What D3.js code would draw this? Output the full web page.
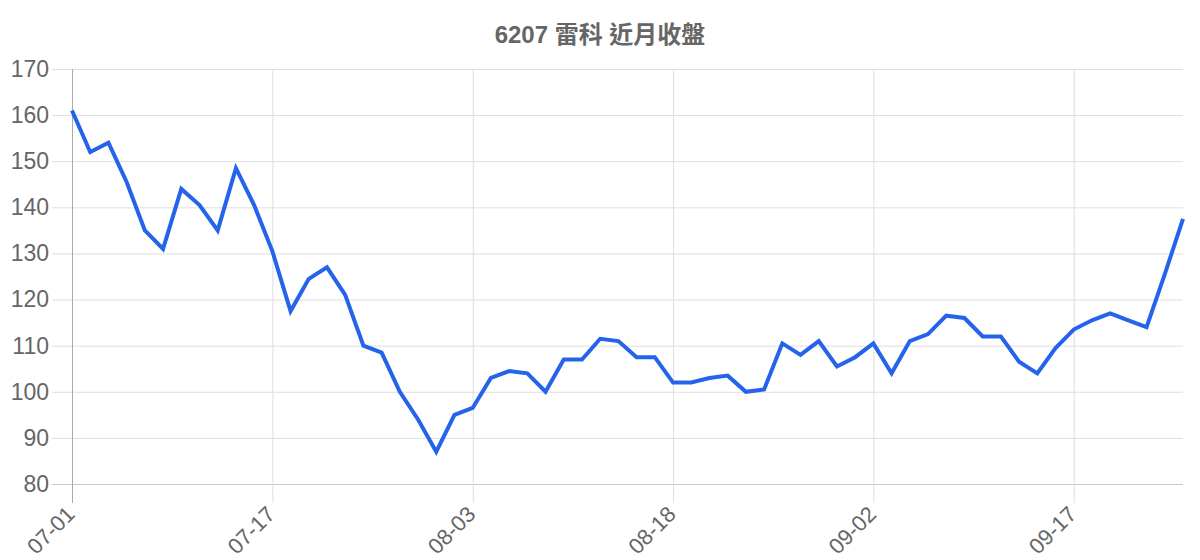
<!DOCTYPE html>
<html>
<head>
<meta charset="utf-8">
<script src="https://cdn.jsdelivr.net/npm/d3@7"></script>
<style>
  body { margin: 0; background: #fff; }
  svg { display: block; font-family: "Liberation Sans", Arial, "Noto Sans CJK TC", sans-serif; }
</style>
</head>
<body>
<svg id="chart" width="1200" height="560"></svg>
<script>
var chartTitle = "6207 雷科 近月收盤";

var dates = [
    "07-01","07-02","07-03","07-06","07-07","07-08","07-09","07-10","07-13","07-14","07-16","07-17",
    "07-20","07-21","07-22","07-23","07-24","07-27","07-28","07-29","07-30","07-31",
    "08-03","08-04","08-05","08-06","08-07","08-10","08-11","08-12","08-13","08-14","08-17",
    "08-18","08-19","08-20","08-21","08-24","08-25","08-26","08-27","08-28","08-31","09-01",
    "09-02","09-03","09-04","09-07","09-08","09-09","09-10","09-11","09-14","09-15","09-16",
    "09-17","09-18","09-21","09-22","09-23","09-24","09-25"
];

var closes = [
    161, 152, 154, 145.5, 135, 131, 144, 140.5, 135, 148.5, 140.5, 130.5,
    117.5, 124.5, 127, 121, 110, 108.5, 100, 94, 87, 95,
    96.5, 103, 104.5, 104, 100, 107, 107, 111.5, 111, 107.5, 107.5,
    102, 102, 103, 103.5, 100, 100.5, 110.5, 108, 111, 105.5, 107.5,
    110.5, 104, 111, 112.5, 116.5, 116, 112, 112, 106.5, 104, 109.5,
    113.5, 115.5, 117, 115.5, 114, 125.5, 137.5
];

var xLabels = ["07-01", "07-17", "08-03", "08-18", "09-02", "09-17"];
var yTicks = [80, 90, 100, 110, 120, 130, 140, 150, 160, 170];

(function() {
    var svg = d3.select("#chart"),
        margin = {top: 69, left: 72, bottom: 76, right: 17},
        width = 1200,
        height = 560;

    var x = d3.scalePoint()
        .domain(dates)
        .range([margin.left, width - margin.right]);

    var y = d3.scaleLinear()
        .domain([80, 170])
        .range([height - margin.bottom, margin.top]);

    svg.append("text")
        .attr("x", 600)
        .attr("y", 43)
        .attr("text-anchor", "middle")
        .attr("font-size", 24)
        .attr("font-weight", "bold")
        .attr("fill", "#666")
        .text(chartTitle);

    // horizontal grid + y labels
    var yAxis = svg.append("g")
        .attr("transform", `translate(${margin.left},0)`)
        .call(d3.axisLeft(y).tickValues(yTicks).tickSize(20).tickPadding(3)
            .tickSizeOuter(0));
    yAxis.select(".domain").remove();
    yAxis.selectAll(".tick line")
        .attr("x2", width - margin.right - margin.left)
        .attr("x1", -20)
        .attr("stroke", d => d === 80 ? "#c8c8c8" : "#dedede");
    yAxis.selectAll(".tick text")
        .attr("font-size", 23)
        .attr("font-family", "Liberation Sans, Arial, sans-serif")
        .attr("fill", "#666");

    // vertical grid + x labels
    var xAxis = svg.append("g")
        .attr("transform", `translate(0,${height - margin.bottom})`)
        .call(d3.axisBottom(x).tickValues(xLabels).tickSize(19).tickSizeOuter(0));
    xAxis.select(".domain").remove();
    xAxis.selectAll(".tick line")
        .attr("y1", -(height - margin.bottom - margin.top))
        .attr("stroke", d => d === dates[0] ? "#aaa" : "#dedede");
    xAxis.selectAll(".tick text")
        .attr("font-size", 22)
        .attr("font-family", "Liberation Sans, Arial, sans-serif")
        .attr("fill", "#666")
        .attr("text-anchor", "end")
        .attr("x", 0)
        .attr("y", 0)
        .attr("dy", "0.75em")
        .attr("transform", "translate(-8,20) rotate(-45)");

    var line = d3.line()
        .x((d, i) => x(dates[i]))
        .y(d => y(d));

    svg.append("path")
        .datum(closes)
        .attr("fill", "none")
        .attr("stroke", "#2563eb")
        .attr("stroke-width", 4)
        .attr("stroke-linejoin", "miter")
        .attr("d", line);
})();
</script>
</body>
</html>
